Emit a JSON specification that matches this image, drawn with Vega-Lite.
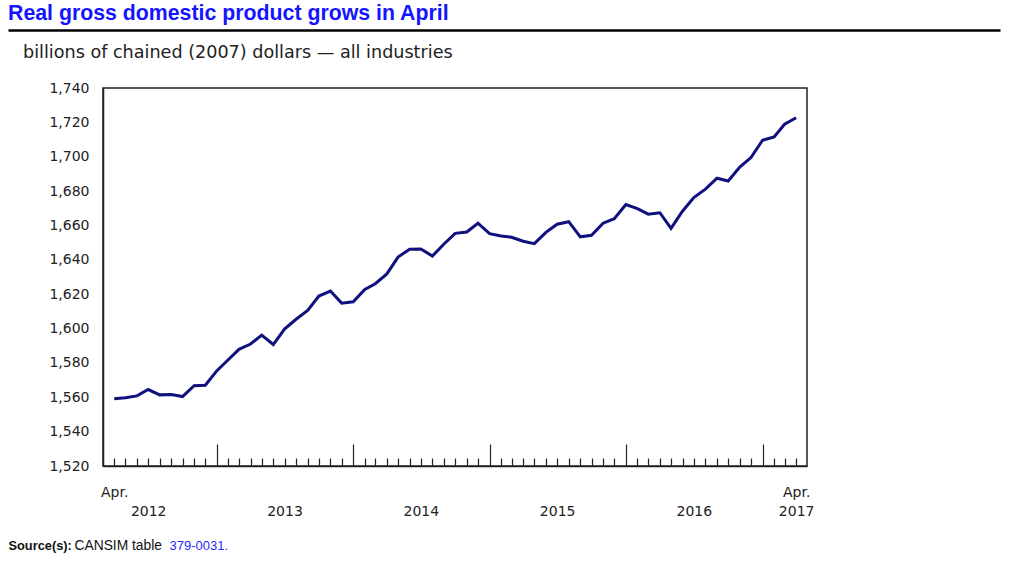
{
  "$schema": "https://vega.github.io/schema/vega-lite/v6.json",
  "autosize": {"type": "pad"},
  "padding": {"left": 5, "top": 3, "right": 10, "bottom": 5},
  "background": "white",
  "spacing": 10,
  "config": {
    "view": {"stroke": "#222", "strokeWidth": 1.5},
    "axis": {"grid": false, "labelFont": "DejaVu Sans", "labelFontSize": 14, "labelColor": "#222", "domainColor": "#222", "tickColor": "#222", "domainWidth": 1.5, "tickWidth": 1.2}
  },
  "vconcat": [
    {
      "width": 704,
      "height": 1,
      "view": {"stroke": null},
      "title": {"text": "Real gross domestic product grows in April", "anchor": "start", "frame": "group", "dx": -95, "offset": 2, "font": "Liberation Sans", "fontSize": 21.3, "fontWeight": "bold", "color": "#1414ff"},
      "data": {"values": [{"v": 0}]},
      "mark": {"type": "point", "opacity": 0},
      "encoding": {
        "x": {"field": "v", "type": "quantitative", "scale": {"domain": [0, 1], "range": [-95, 897]}, "axis": {"orient": "bottom", "domain": true, "domainWidth": 2.5, "domainColor": "#000", "ticks": false, "labels": false, "title": null}}
      }
    },
    {
      "width": 704,
      "height": 378,
      "title": {"text": "billions of chained (2007) dollars — all industries", "anchor": "start", "frame": "group", "dx": -80, "offset": 19, "font": "DejaVu Sans", "fontSize": 17.6, "fontWeight": "normal", "color": "#222"},
      "data": {"values": [
        {"date": "2012-04-01", "gdp": 1559.2}, {"date": "2012-05-01", "gdp": 1559.7}, {"date": "2012-06-01", "gdp": 1560.8},
        {"date": "2012-07-01", "gdp": 1564.5}, {"date": "2012-08-01", "gdp": 1561.4}, {"date": "2012-09-01", "gdp": 1561.6},
        {"date": "2012-10-01", "gdp": 1560.4}, {"date": "2012-11-01", "gdp": 1566.7}, {"date": "2012-12-01", "gdp": 1567.0},
        {"date": "2013-01-01", "gdp": 1575.5}, {"date": "2013-02-01", "gdp": 1582.0}, {"date": "2013-03-01", "gdp": 1587.9},
        {"date": "2013-04-01", "gdp": 1591.0}, {"date": "2013-05-01", "gdp": 1596.2}, {"date": "2013-06-01", "gdp": 1590.7},
        {"date": "2013-07-01", "gdp": 1599.7}, {"date": "2013-08-01", "gdp": 1605.4}, {"date": "2013-09-01", "gdp": 1610.6},
        {"date": "2013-10-01", "gdp": 1618.9}, {"date": "2013-11-01", "gdp": 1621.8}, {"date": "2013-12-01", "gdp": 1614.8},
        {"date": "2014-01-01", "gdp": 1615.6}, {"date": "2014-02-01", "gdp": 1622.8}, {"date": "2014-03-01", "gdp": 1626.1},
        {"date": "2014-04-01", "gdp": 1631.8}, {"date": "2014-05-01", "gdp": 1641.6}, {"date": "2014-06-01", "gdp": 1646.2},
        {"date": "2014-07-01", "gdp": 1646.3}, {"date": "2014-08-01", "gdp": 1642.2}, {"date": "2014-09-01", "gdp": 1649.2},
        {"date": "2014-10-01", "gdp": 1655.4}, {"date": "2014-11-01", "gdp": 1656.2}, {"date": "2014-12-01", "gdp": 1661.3},
        {"date": "2015-01-01", "gdp": 1655.2}, {"date": "2015-02-01", "gdp": 1653.9}, {"date": "2015-03-01", "gdp": 1653.1},
        {"date": "2015-04-01", "gdp": 1650.8}, {"date": "2015-05-01", "gdp": 1649.4}, {"date": "2015-06-01", "gdp": 1656.0},
        {"date": "2015-07-01", "gdp": 1660.7}, {"date": "2015-08-01", "gdp": 1662.2}, {"date": "2015-09-01", "gdp": 1653.4},
        {"date": "2015-10-01", "gdp": 1654.3}, {"date": "2015-11-01", "gdp": 1661.3}, {"date": "2015-12-01", "gdp": 1663.9},
        {"date": "2016-01-01", "gdp": 1672.2}, {"date": "2016-02-01", "gdp": 1669.8}, {"date": "2016-03-01", "gdp": 1666.6},
        {"date": "2016-04-01", "gdp": 1667.4}, {"date": "2016-05-01", "gdp": 1658.3}, {"date": "2016-06-01", "gdp": 1668.4},
        {"date": "2016-07-01", "gdp": 1676.2}, {"date": "2016-08-01", "gdp": 1681.1}, {"date": "2016-09-01", "gdp": 1687.5},
        {"date": "2016-10-01", "gdp": 1685.9}, {"date": "2016-11-01", "gdp": 1694.0}, {"date": "2016-12-01", "gdp": 1699.5},
        {"date": "2017-01-01", "gdp": 1709.6}, {"date": "2017-02-01", "gdp": 1711.5}, {"date": "2017-03-01", "gdp": 1718.9},
        {"date": "2017-04-01", "gdp": 1722.7}
      ]},
      "resolve": {"axis": {"y": "independent"}},
      "layer": [
        {
          "mark": {"type": "line", "color": "#10107e", "strokeWidth": 3, "strokeJoin": "miter"},
          "encoding": {
            "x": {
              "field": "date", "type": "temporal",
              "scale": {"type": "utc", "nice": false, "domain": [{"year": 2012, "month": 3, "date": 2, "utc": true}, {"year": 2017, "month": 4, "date": 30, "utc": true}]},
              "axis": {
                "tickCount": {"interval": "month", "step": 1},
                "tickSize": {"condition": {"test": "utcmonth(datum.value) == 0", "value": -22}, "value": -8},
                "labelExpr": "utcmonth(datum.value) == 3 && utcyear(datum.value) == 2012 ? 'Apr.' : (utcmonth(datum.value) == 3 && utcyear(datum.value) == 2017 ? ['Apr.', '2017'] : (utcmonth(datum.value) == 6 ? [' ', '' + utcyear(datum.value)] : ''))",
                "labelPadding": 27,
                "labelBaseline": "top",
                "labelLineHeight": 19,
                "labelOverlap": false,
                "labelFlush": false,
                "labelBound": false,
                "title": "Source(s):",
                "titleX": -95,
                "titleY": 79,
                "titleAlign": "left",
                "titleBaseline": "middle",
                "titleFont": "Liberation Sans",
                "titleFontSize": 12.8,
                "titleFontWeight": "bold",
                "titleColor": "#111"
              }
            },
            "y": {
              "field": "gdp", "type": "quantitative",
              "scale": {"domain": [1520, 1740], "nice": false, "zero": false},
              "axis": {
                "values": [1520, 1540, 1560, 1580, 1600, 1620, 1640, 1660, 1680, 1700, 1720, 1740],
                "format": ",d",
                "ticks": false,
                "labelPadding": 14,
                "title": "CANSIM table",
                "titleAngle": 0,
                "titleX": -29,
                "titleY": 457,
                "titleAlign": "left",
                "titleBaseline": "middle",
                "titleFont": "Liberation Sans",
                "titleFontSize": 13.8,
                "titleFontWeight": "normal",
                "titleColor": "#111"
              }
            }
          }
        },
        {
          "mark": {"type": "line", "strokeOpacity": 0},
          "encoding": {
            "x": {"field": "date", "type": "temporal"},
            "y": {
              "field": "gdp", "type": "quantitative",
              "axis": {
                "orient": "right",
                "domain": false,
                "ticks": false,
                "labels": false,
                "title": "379-0031.",
                "titleAngle": 0,
                "titleX": -638,
                "titleY": 457,
                "titleAlign": "left",
                "titleBaseline": "middle",
                "titleFont": "Liberation Sans",
                "titleFontSize": 13,
                "titleFontWeight": "normal",
                "titleColor": "#2b2bff"
              }
            }
          }
        }
      ]
    }
  ]
}
